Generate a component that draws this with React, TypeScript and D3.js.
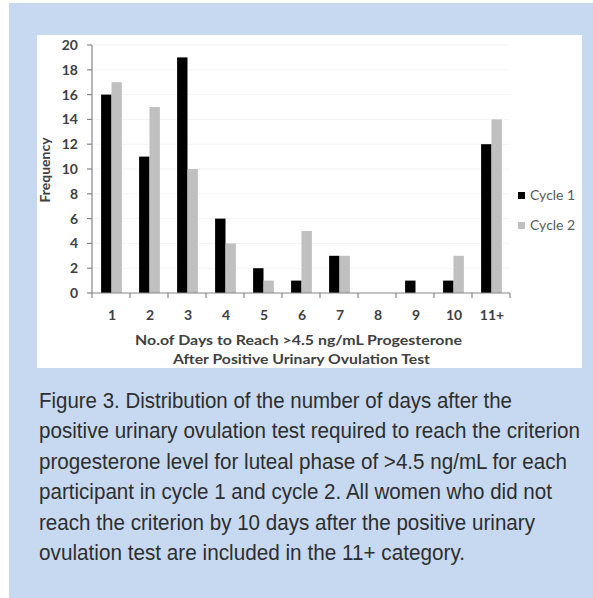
import React from "react";
import * as d3 from "d3";

const categories = ["1", "2", "3", "4", "5", "6", "7", "8", "9", "10", "11+"];
const cycle1 = [16, 11, 19, 6, 2, 1, 3, 0, 1, 1, 12];
const cycle2 = [17, 15, 10, 4, 1, 5, 3, 0, 0, 3, 14];
const seriesNames = ["Cycle 1", "Cycle 2"];
const seriesColors = ["#000000", "#c0c0c0"];
const yTicks = [0, 2, 4, 6, 8, 10, 12, 14, 16, 18, 20];
const captionLines = [
  "Figure 3. Distribution of the number of days after the",
  "positive urinary ovulation test required to reach the criterion",
  "progesterone level for luteal phase of >4.5 ng/mL for each",
  "participant in cycle 1 and cycle 2. All women who did not",
  "reach the criterion by 10 days after the positive urinary",
  "ovulation test are included in the 11+ category.",
];
const captionWidths = [473, 541, 528, 513, 496, 426];

export default function App() {
  const W = 593, H = 598;
  const x0 = 92, x1 = 510, yTop = 45, yBot = 293;
  const x = d3.scaleBand<string>().domain(categories).range([x0, x1]);
  const y = d3.scaleLinear().domain([0, 20]).range([yBot, yTop]);
  const barW = 10.4;
  const series = [cycle1, cycle2];
  const chartFont = "Lato, 'Open Sans', sans-serif";
  const axisColor = "#868686";
  const textColor = "#404040";
  const fs = 14;
  return (
    <div style={{ position: "absolute", left: 0, top: 0 }}>
      <svg width={W} height={H} style={{ display: "block" }}>
        <rect x={0} y={0} width={W} height={H} fill="#ffffff" />
        <rect x={9} y={3} width={W - 9} height={H - 3} fill="#c6d9f1" />
        <rect x={37} y={35} width={545} height={333} fill="#ffffff" />
        {yTicks.slice(1).map((t) => (
          <line key={"g" + t} x1={x0} x2={x1} y1={y(t)} y2={y(t)} stroke="#f4f4f4" strokeWidth={1} />
        ))}
        {series.map((vals, si) =>
          vals.map((v, i) => {
            const c = x(categories[i])! + x.bandwidth() / 2 + 0.5;
            const bx = si === 0 ? c - barW : c;
            return (
              <rect key={si + "-" + i} x={bx} y={y(v)} width={barW} height={yBot - y(v)} fill={seriesColors[si]} />
            );
          })
        )}
        <line x1={x0} x2={x0} y1={yTop} y2={yBot} stroke={axisColor} strokeWidth={1.2} />
        <line x1={x0} x2={x1} y1={yBot} y2={yBot} stroke={axisColor} strokeWidth={1.2} />
        {yTicks.map((t) => (
          <g key={"yt" + t}>
            <line x1={x0 - 5} x2={x0} y1={y(t)} y2={y(t)} stroke={axisColor} strokeWidth={1.2} />
            <text x={78} y={y(t)} dy="0.35em" textAnchor="end" fontFamily={chartFont} fontWeight="bold" fontSize={fs} fill={textColor}>
              {t}
            </text>
          </g>
        ))}
        {categories.map((c) => (
          <text key={"xl" + c} x={x(c)! + x.bandwidth() / 2 + 1} y={315} dy="0.35em" textAnchor="middle" fontFamily={chartFont} fontWeight="bold" fontSize={fs} fill={textColor}>
            {c}
          </text>
        ))}
        {[...categories.map((c) => x(c)!), x1].map((p, i) => (
          <line key={"xt" + i} x1={p} x2={p} y1={yBot} y2={yBot + 5} stroke={axisColor} strokeWidth={1.2} />
        ))}
        <text x={135} y={345} fontFamily={chartFont} fontWeight="bold" fontSize={fs} fill={textColor} textLength={327} lengthAdjust="spacingAndGlyphs">
          No.of Days to Reach &gt;4.5 ng/mL Progesterone
        </text>
        <text x={173} y={364} fontFamily={chartFont} fontWeight="bold" fontSize={fs} fill={textColor} textLength={257} lengthAdjust="spacingAndGlyphs">
          After Positive Urinary Ovulation Test
        </text>
        <text transform="translate(45,170) rotate(-90)" dy="0.35em" textAnchor="middle" fontFamily={chartFont} fontWeight="bold" fontSize={fs} fill={textColor}>
          Frequency
        </text>
        {seriesNames.map((n, i) => (
          <g key={"lg" + i}>
            <rect x={518} y={192 + i * 30} width={7} height={7} fill={seriesColors[i]} />
            <text x={530} y={195.5 + i * 30} dy="0.35em" fontFamily={chartFont} fontSize={fs} fill="#595959">
              {n}
            </text>
          </g>
        ))}
        {captionLines.map((l, i) => (
          <text key={"cap" + i} transform={`translate(39,${407.5 + i * 30.5}) scale(1,1.3)`} x={0} y={0} fontFamily="'Liberation Sans Narrow', 'Liberation Sans', Arial, sans-serif" fontSize={17.5} fill="#2e2e2e" textLength={captionWidths[i]} lengthAdjust="spacingAndGlyphs">
            {l}
          </text>
        ))}
      </svg>
    </div>
  );
}
